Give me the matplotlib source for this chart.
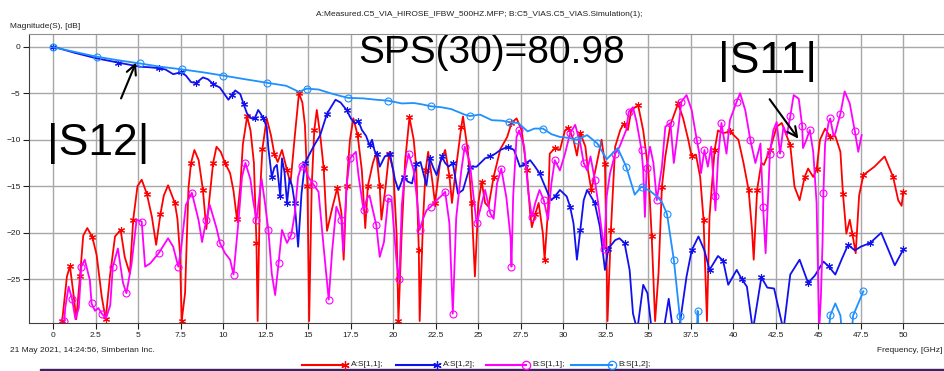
import numpy as np
import matplotlib.pyplot as plt
from matplotlib.lines import Line2D

# A:S[1,1] measured (red)
a11_f = [0.5, 0.55, 0.8, 0.98, 1.18, 1.35, 1.57, 1.76, 2.0, 2.3, 2.55, 2.85, 3.08, 3.33, 3.63, 3.96,
         4.2, 4.5, 4.7, 4.95, 5.2, 5.5, 5.8, 6.05, 6.3, 6.5, 6.75, 7.15, 7.3, 7.45, 7.55, 7.75,
         7.95, 8.1, 8.3, 8.55, 8.8, 9.0, 9.2, 9.4, 9.6, 9.85, 10.1, 10.4, 10.6, 10.8, 11.0, 11.15,
         11.4, 11.6, 11.8, 11.95, 12.02, 12.15, 12.3, 12.55, 12.8, 13.0, 13.2, 13.45, 13.75, 13.95,
         14.2, 14.45, 14.65, 14.8, 14.95, 15.05, 15.2, 15.35, 15.5, 15.7, 15.9, 16.1, 16.4, 16.7,
         16.95, 17.08, 17.25, 17.45, 17.65, 17.9, 18.15, 18.35, 18.5, 18.8, 19.0, 19.2, 19.3, 19.55,
         19.75, 20.0, 20.2, 20.3, 20.5, 20.7, 20.95, 21.2, 21.35, 21.5, 21.55, 21.75, 21.9, 22.05,
         22.3, 22.45, 22.75, 23.05, 23.3, 23.45, 23.65, 24.0, 24.1, 24.4, 24.6, 24.8, 25.0, 25.2,
         25.4, 25.6, 25.9, 26.3, 26.7, 26.95, 27.25, 27.55, 27.85, 28.05, 28.15, 28.35, 28.55, 28.8,
         28.9, 29.1, 29.2, 29.5, 29.8, 30.1, 30.3, 30.6, 30.8, 31.0, 31.3, 31.45, 31.65, 31.85,
         32.25, 32.45, 32.55, 32.6, 32.8, 33.05, 33.35, 33.55, 33.8, 34.0, 34.4, 34.7, 35.0, 35.2,
         35.4, 35.6, 35.8, 36.0, 36.3, 36.75, 37.05, 37.35, 37.55, 37.8, 38.05, 38.25, 38.45, 38.6,
         38.9, 39.1, 39.4, 39.8, 40.3, 40.6, 40.9, 41.1, 41.2, 41.4, 41.65, 41.8, 42.15, 42.55,
         42.85, 43.35, 43.6, 43.9, 44.2, 44.4, 44.7, 44.9, 45.1, 45.4, 45.7, 46.0, 46.3, 46.45,
         46.65, 46.85, 47.0, 47.2, 47.4, 47.65, 48.3, 48.9, 49.4, 49.7, 49.9, 50.0]
a11_db = [-29.5, -29.0, -24.7, -23.6, -26.5, -29.3, -24.7, -20.3, -19.5, -20.5, -22.4, -26.9, -29.3, -24.7, -20.4, -19.7,
          -22.6, -24.4, -18.6, -15.0, -14.3, -15.8, -18.3, -21.3, -18.0, -16.0, -14.9, -16.8, -18.5, -22.2, -29.5, -26.5,
          -15.2, -12.5, -11.1, -12.2, -15.4, -19.6, -16.0, -12.5, -10.75, -11.3, -12.5, -13.6, -15.5, -18.5, -15.0, -10.5,
          -7.5, -9.0, -12.5, -21.1, -29.5, -16.1, -11.0, -7.7, -9.5, -11.5, -12.4, -11.1, -13.3, -14.7,
          -9.7, -5.0, -6.0, -8.4, -15.0, -29.5, -15.0, -9.0, -6.8, -9.5, -13.0, -19.8, -17.4, -15.2,
          -17.9, -22.9, -15.0, -10.0, -7.7, -9.5, -13.3, -19.5, -15.0, -12.5, -11.4, -15.0, -18.6, -15.0,
          -11.5, -13.3, -20.4, -29.5, -19.7, -12.2, -7.6, -10.0, -13.0, -21.9, -29.5, -18.6, -13.3, -11.3,
          -14.5, -16.8, -12.5, -11.1, -13.9, -16.8, -13.6, -8.6, -7.5, -11.5, -16.8, -24.7, -16.8, -14.5,
          -16.8, -17.2, -14.0, -11.0, -9.7, -8.2, -7.7, -9.0, -13.3, -17.9, -19.4, -18.0, -16.8, -20.1,
          -22.9, -17.6, -11.5, -10.9, -11.1, -9.0, -8.7, -10.0, -11.7, -9.3, -10.75, -13.3, -15.4, -13.6,
          -10.0, -12.6, -23.3, -29.5, -19.7, -10.75, -8.95, -8.3, -8.95, -6.8, -6.3, -9.0, -13.3, -20.4,
          -29.5, -24.4, -15.05, -11.8, -8.4, -6.1, -7.7, -10.0, -11.8, -11.6, -14.0, -18.6, -29.5, -18.3,
          -11.1, -9.0, -9.3, -9.1, -10.0, -12.5, -15.4, -19.7, -22.9, -15.4, -12.5, -12.7, -11.1, -8.6,
          -8.2, -10.6, -15.05, -16.5, -14.0, -13.1, -14.0, -13.2, -10.0, -8.8, -9.7, -9.6, -11.3, -15.8,
          -20.1, -18.6, -20.1, -22.2, -16.0, -13.8, -12.9, -11.8, -14.0, -16.5, -17.1, -15.6]

# A:S[1,2] measured (blue)
a12_f = [0.0, 1.25, 2.55, 3.8, 5.1, 5.6, 6.2, 6.6, 7.05, 7.5, 7.8, 8.1, 8.4, 8.8, 9.1, 9.4, 9.8,
         10.3, 10.5, 10.7, 11.0, 11.2, 11.4, 11.65, 11.85, 12.05, 12.2, 12.35, 12.55, 12.65, 12.85,
         13.0, 13.15, 13.35, 13.45, 13.6, 13.75, 13.9, 14.05, 14.2, 14.4, 14.6, 14.8, 15.3, 15.7,
         16.1, 16.6, 16.9, 17.25, 17.5, 17.75, 17.95, 18.15, 18.4, 18.6, 18.75, 18.9, 19.05, 19.2,
         19.5, 19.8, 20.1, 20.3, 20.6, 20.85, 21.1, 21.35, 21.6, 21.95, 22.15, 22.35, 22.55, 22.85,
         23.05, 23.25, 23.5, 23.8, 24.1, 24.5, 24.9, 25.4, 25.7, 26.0, 26.3, 26.75, 27.1, 27.45,
         27.75, 28.05, 28.3, 28.6, 29.1, 29.3, 29.55, 29.8, 30.2, 30.4, 30.6, 30.8, 31.0, 31.2,
         31.4, 31.85, 32.15, 32.45, 32.65, 33.05, 33.3, 33.6, 33.9, 34.1, 34.35, 34.7, 34.95, 35.2,
         35.9, 36.2, 36.45, 36.8, 37.25, 37.55, 37.95, 38.3, 38.6, 38.8, 39.1, 39.4, 39.7, 40.2,
         40.5, 40.8, 41.15, 41.65, 42.0, 42.4, 42.95, 43.35, 43.9, 44.4, 44.8, 45.3, 45.6, 46.0,
         46.4, 46.75, 47.15, 47.5, 48.05, 48.7, 49.5, 50.0]
a12_db = [0.0, -0.65, -1.25, -1.7, -2.15, -2.2, -2.3, -2.45, -2.95, -2.75, -3.1, -3.8, -3.9, -3.3, -3.5, -4.0, -4.4,
          -5.7, -5.2, -4.7, -5.1, -6.2, -7.2, -7.7, -7.7, -6.8, -7.2, -7.7, -8.6, -10.9, -14.0,
          -13.0, -12.7, -16.1, -12.0, -13.5, -16.8, -14.15, -15.0, -16.8, -21.5, -15.8, -12.5, -10.75, -9.5,
          -7.2, -5.7, -6.0, -6.8, -7.7, -8.25, -8.0, -8.95, -9.6, -10.6, -10.0, -11.2, -11.5, -12.9,
          -11.8, -11.5, -14.3, -15.4, -14.0, -14.5, -14.7, -12.6, -12.4, -14.9, -12.0, -13.0, -13.8, -11.8,
          -12.5, -12.9, -12.5, -15.8, -15.4, -12.9, -12.9, -12.0, -11.8, -11.5, -11.1, -10.75, -11.1, -12.9,
          -12.6, -12.2, -12.8, -13.6, -15.8, -16.5, -16.0, -15.4, -16.1, -17.2, -19.0, -22.9, -19.7, -16.5,
          -15.4, -16.8, -19.35, -24.0, -21.7, -20.8, -20.6, -21.1, -24.0, -28.7, -30.5, -25.6, -26.5, -30.5,
          -30.5, -27.1, -30.5, -30.5, -24.7, -21.9, -20.4, -21.9, -24.0, -23.4, -22.5, -23.0, -25.6, -24.0,
          -25.0, -25.8, -30.5, -24.8, -25.9, -26.0, -30.5, -24.5, -22.9, -25.4, -24.6, -23.1, -23.6, -24.5,
          -22.75, -21.3, -21.9, -21.5, -21.1, -20.0, -23.5, -21.8]

# B:S[1,1] simulated (magenta)
b11_f = [0.65, 0.7, 0.9, 1.1, 1.3, 1.5, 1.65, 1.85, 2.15, 2.25, 2.45, 2.65, 2.85, 3.1, 3.35, 3.5,
         3.8, 4.1, 4.3, 4.6, 4.9, 5.2, 5.4, 5.7, 6.2, 6.75, 7.05, 7.35, 7.5, 7.8, 8.15, 8.55, 8.75,
         9.0, 9.2, 9.6, 9.8, 10.1, 10.4, 10.6, 10.9, 11.1, 11.3, 11.6, 11.75, 11.95, 12.25, 12.45,
         12.65, 12.85, 13.05, 13.25, 13.45, 13.75, 14.0, 14.2, 14.4, 14.6, 14.8, 15.0, 15.3, 15.6,
         15.9, 16.2, 16.4, 16.65, 16.95, 17.05, 17.25, 17.45, 17.8, 17.95, 18.25, 18.45, 18.6, 19.0,
         19.2, 19.45, 19.7, 19.9, 20.2, 20.35, 20.5, 20.7, 20.9, 21.2, 21.4, 21.55, 21.75, 21.95,
         22.2, 22.55, 22.85, 23.05, 23.3, 23.4, 23.5, 23.7, 24.0, 24.2, 24.5, 24.7, 24.9, 25.1,
         25.4, 25.7, 25.9, 26.1, 26.35, 26.65, 26.9, 26.95, 27.05, 27.25, 27.4, 27.7, 27.95, 28.15,
         28.35, 28.6, 28.85, 29.1, 29.3, 29.5, 29.8, 30.1, 30.4, 30.7, 31.0, 31.2, 31.4, 31.6, 31.85,
         32.05, 32.25, 32.4, 32.55, 32.75, 33.05, 33.3, 33.7, 33.85, 34.1, 34.3, 34.6, 34.7, 34.8,
         34.9, 35.1, 35.3, 35.5, 35.8, 36.0, 36.3, 36.5, 36.7, 36.95, 37.25, 37.55, 37.85, 38.0,
         38.1, 38.3, 38.5, 38.7, 38.9, 38.95, 39.1, 39.3, 39.6, 39.8, 40.2, 40.4, 40.7, 41.0, 41.3,
         41.6, 41.75, 41.9, 42.05, 42.15, 42.35, 42.55, 42.75, 42.95, 43.15, 43.35, 43.55, 43.85,
         44.05, 44.1, 44.3, 44.5, 44.7, 44.9, 45.05, 45.15, 45.25, 45.3, 45.4, 45.6, 45.7, 45.9,
         46.0, 46.3, 46.55, 46.85, 47.15, 47.35, 47.55]
b11_db = [-29.5, -28.1, -25.8, -27.1, -29.3, -28.1, -23.65, -22.9, -25.1, -27.6, -28.4, -28.1, -28.7, -29.2, -27.8, -23.65,
          -21.7, -25.4, -26.5, -23.4, -18.6, -18.8, -23.65, -23.3, -22.2, -20.6, -21.5, -23.65, -22.0, -17.0, -15.7, -18.7, -21.0,
          -18.6, -17.0, -19.5, -21.1, -22.2, -22.9, -24.5, -18.6, -14.0, -12.5, -14.3, -16.5, -18.6, -14.2, -16.8,
          -19.7, -24.4, -26.7, -23.3, -19.7, -21.1, -20.2, -18.0, -14.0, -12.8, -13.2, -14.0, -14.8, -15.6,
          -21.5, -27.2, -22.0, -17.2, -18.6, -22.0, -15.0, -12.0, -11.3, -13.8, -17.6, -16.3, -16.0, -19.2,
          -22.6, -21.0, -16.3, -16.5, -23.3, -25.0, -17.0, -13.3, -11.5, -13.3, -16.5, -19.7, -18.5, -17.6,
          -17.2, -16.5, -16.0, -15.6, -19.0, -24.0, -28.7, -18.4, -13.3, -10.75, -12.4, -15.8, -19.0, -17.6,
          -15.4, -17.9, -18.5, -14.7, -13.1, -16.2, -20.6, -23.65, -16.1, -9.7, -9.0, -10.75, -15.8, -18.3,
          -16.8, -15.4, -16.5, -18.6, -14.7, -12.2, -13.3, -11.5, -9.3, -8.4, -10.4, -12.5, -13.3, -11.8, -14.3,
          -16.8, -19.7, -21.8, -16.1, -13.6, -11.5, -10.8, -8.95, -7.0, -6.5, -8.0, -11.1, -13.3, -18.3,
          -13.0, -10.75, -12.5, -16.5, -12.9, -8.6, -8.2, -12.5, -9.7, -5.9, -5.2, -6.8, -10.0, -11.5,
          -13.6, -11.1, -12.9, -10.75, -16.1, -17.6, -12.0, -8.2, -11.5, -7.9, -5.9, -5.0, -6.8, -10.0, -12.5,
          -10.4, -17.2, -22.2, -16.0, -11.5, -9.0, -8.1, -11.5, -8.6, -9.5, -7.5, -5.2, -5.6,
          -8.5, -10.9, -10.0, -8.95, -11.3, -16.8, -30.5, -27.0, -21.0, -15.7, -10.4, -8.2, -7.7, -9.6,
          -9.3, -7.2, -4.8, -6.1, -9.1, -11.3, -9.5]

# B:S[1,2] simulated (light blue), gaps where it drops out of range
b12_f = [0.0, 1.25, 2.55, 3.8, 5.1, 6.3, 7.55, 8.8, 10.0, 11.3, 12.55, 13.7, 14.45, 14.9, 15.6, 16.3,
         16.9, 17.35, 18.2, 19.0, 19.7, 20.5, 21.2, 21.7, 22.2, 22.8, 23.4, 23.8, 24.2, 24.5, 25.1,
         25.8, 26.4, 26.8, 27.35, 27.9, 28.3, 28.8, 29.3, 29.8, 30.3, 30.8, 31.4, 32.0, 32.55, 33.2,
         33.7, 34.2, 34.6, 35.1, 35.5, 35.8, 36.1, 36.5, 36.85, 37.0, np.nan,
         37.85, 37.9, 37.95, np.nan, 45.6, 45.7, 46.0, 46.3, 46.4, np.nan, 46.95, 47.05, 47.65]
b12_db = [-0.05, -0.55, -1.07, -1.45, -1.8, -2.15, -2.43, -2.75, -3.1, -3.5, -3.87, -4.2, -4.85, -4.5, -4.6, -5.0,
          -5.3, -5.5, -5.55, -5.7, -5.8, -6.1, -6.05, -6.2, -6.4, -6.5, -6.7, -7.0, -7.3, -7.45, -7.3,
          -7.9, -7.95, -8.1, -8.2, -9.1, -8.8, -8.8, -9.4, -9.7, -9.8, -10.0, -9.5, -10.4, -12.1, -10.9,
          -12.9, -15.9, -15.05, -15.5, -16.1, -16.7, -18.0, -22.9, -29.0, -31.0, np.nan,
          -31.0, -28.4, -31.0, np.nan, -31.0, -28.9, -27.6, -28.9, -31.0, np.nan, -31.0, -28.9, -26.3]
b12_mark_f = [0.0, 2.55, 5.1, 7.55, 10.0, 12.55, 14.9, 17.35, 19.7, 22.2, 24.5, 26.8, 28.8, 30.8,
              32.0, 33.7, 34.6, 36.1, 36.5, 36.85, 37.9, 45.7, 47.05, 47.65]

W, H = 945, 371
fig = plt.figure(figsize=(W / 100, H / 100), dpi=100)
fig.patch.set_facecolor('white')


def fx(x):
    return x / W


def fy(y):
    return 1 - y / H


ax = fig.add_axes([fx(29), fy(323.3), fx(947 - 29), (323.3 - 34) / H])
ax.set_xlim(-1.43, 52.57)
ax.set_ylim(-29.74, 1.37)

ast = (6, 2, 0)
ax.plot(a11_f, a11_db, color='#ff0000', lw=1.3, marker=ast, ms=5, mew=0.8, markevery=3)
ax.plot(a12_f, a12_db, color='#1010f0', lw=1.3, marker=ast, ms=5, mew=0.8, markevery=3)
ax.plot(b11_f, b11_db, color='#ff00ff', lw=1.3, marker='o', ms=5, mfc='none', mew=0.8, markevery=3)
b12_every = np.isin(np.array(b12_f), b12_mark_f)
ax.plot(b12_f, b12_db, color='#1e90ff', lw=1.3, marker='o', ms=5, mfc='none', mew=0.8,
        markevery=list(b12_every))

xt = np.arange(0, 50.1, 2.5)
ax.set_xticks(xt)
ax.set_xticklabels(['%g' % v for v in xt])
ax.set_yticks([0, -5, -10, -15, -20, -25])
ax.grid(True, color='#a8a8a8', lw=1.0)
ax.set_axisbelow(True)
ax.tick_params(direction='out', length=4, width=0.8, labelsize=6, pad=2, colors='#202020')
for s in ['left', 'bottom']:
    ax.spines[s].set_color('#404040')
ax.spines['top'].set_color('#909090')
ax.spines['right'].set_visible(False)
for lab in ax.get_xticklabels() + ax.get_yticklabels():
    lab.set_family('Liberation Sans')

small = dict(family='Liberation Sans', fontsize=6, color='#202020')
fig.text(fx(316), fy(14), 'A:Measured.C5_VIA_HIROSE_IFBW_500HZ.MFP; B:C5_VIAS.C5_VIAS.Simulation(1);',
         ha='left', va='center', **small)
fig.text(fx(10), fy(26), 'Magnitude(S), [dB]', ha='left', va='center', **small)
fig.text(fx(10), fy(351), '21 May 2021, 14:24:56, Simberian Inc.', ha='left', va='center', **small)
fig.text(fx(942), fy(351), 'Frequency, [GHz]', ha='right', va='center', **small)

big = dict(family='Liberation Sans', color='black')
fig.text(fx(492), fy(63), 'SPS(30)=80.98', ha='center', va='baseline', fontsize=28, **big)
fig.text(fx(768), fy(62), '|S11|', ha='center', va='center', fontsize=32, **big)
fig.text(fx(98), fy(144), '|S12|', ha='center', va='center', fontsize=32, **big)

arr = dict(arrowstyle='->,head_length=0.7,head_width=0.35', color='black', lw=1.5)
fig.add_artist(plt.Annotation('', xy=(fx(137), fy(60)), xytext=(fx(120), fy(101)),
                              xycoords='figure fraction', arrowprops=arr))
fig.add_artist(plt.Annotation('', xy=(fx(800), fy(141)), xytext=(fx(768), fy(97)),
                              xycoords='figure fraction', arrowprops=arr))

# legend row at the bottom
leg = [('A:S[1,1];', '#ff0000', ast, 302, 345),
       ('A:S[1,2];', '#1010f0', ast, 396, 437),
       ('B:S[1,1];', '#ff00ff', 'o', 486, 526),
       ('B:S[1,2];', '#1e90ff', 'o', 571, 612)]
for name, col, mk, x0, x1 in leg:
    fig.add_artist(Line2D([fx(x0), fx(x1)], [fy(365), fy(365)], color=col, lw=1.5))
    fig.add_artist(Line2D([fx(x1)], [fy(365)], color=col, marker=mk, ms=6, mfc='none', mew=0.9, lw=0))
    fig.text(fx(x1 + 6), fy(365), name, ha='left', va='center', **small)

fig.add_artist(plt.Rectangle((fx(40), 0), 1, fy(368.5), color='#3d2163', transform=fig.transFigure))

fig.savefig('out.png', dpi=100)
